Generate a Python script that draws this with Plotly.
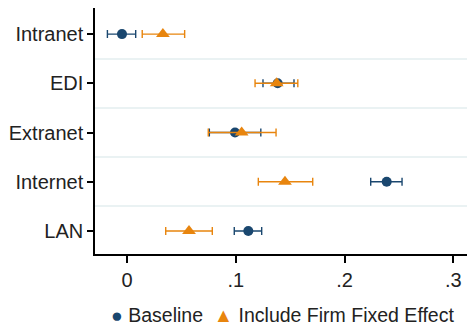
import plotly.graph_objects as go

categories = ["LAN", "Internet", "Extranet", "EDI", "Intranet"]
base_est = [0.1115, 0.2387, 0.0993, 0.1385, -0.0046]
base_lo = [0.0986, 0.2240, 0.0757, 0.1250, -0.0180]
base_hi = [0.1238, 0.2528, 0.1230, 0.1535, 0.0080]
fe_est = [0.0570, 0.1452, 0.1054, 0.1376, 0.0330]
fe_lo = [0.0356, 0.1207, 0.0747, 0.1177, 0.0140]
fe_hi = [0.0784, 0.1707, 0.1370, 0.1570, 0.0530]
x_ticks = [0, 0.1, 0.2, 0.3]
x_labels = ["0", ".1", ".2", ".3"]
series_names = ["Baseline", "Include Firm Fixed Effect"]

NAVY = "#1a476f"
ORANGE = "#e8850e"
ypos = list(range(len(categories)))

fig = go.Figure()
fig.add_trace(go.Scatter(
    x=base_est, y=ypos, mode="markers", name=series_names[0],
    marker=dict(symbol="circle", size=10, color=NAVY),
    error_x=dict(type="data", symmetric=False,
                 array=[h - e for h, e in zip(base_hi, base_est)],
                 arrayminus=[e - l for e, l in zip(base_est, base_lo)],
                 color=NAVY, thickness=1.4, width=4),
    showlegend=False,
))
fig.add_trace(go.Scatter(
    x=fe_est, y=ypos, mode="markers", name=series_names[1],
    marker=dict(symbol="triangle-up", size=12, color=ORANGE),
    error_x=dict(type="data", symmetric=False,
                 array=[h - e for h, e in zip(fe_hi, fe_est)],
                 arrayminus=[e - l for e, l in zip(fe_est, fe_lo)],
                 color=ORANGE, thickness=1.4, width=4),
    showlegend=False,
))

legend_text = (f"<span style='color:{NAVY}'>●</span> {series_names[0]}  "
               f"<span style='color:{ORANGE}'>▲</span> {series_names[1]}")
fig.add_annotation(text=legend_text, xref="paper", yref="paper", x=0.505, y=-0.248,
                   xanchor="center", yanchor="middle", showarrow=False,
                   font=dict(size=19.5, color="#222222"))

fig.update_layout(
    width=467, height=327,
    margin=dict(l=95, r=0, t=8, b=73),
    paper_bgcolor="white", plot_bgcolor="white",
    font=dict(family="Liberation Sans, Arial, sans-serif", size=20, color="#222222"),
    showlegend=False,
)
fig.update_xaxes(
    range=[-0.0294, 0.3125], tickvals=x_ticks, ticktext=x_labels, automargin=False,
    showgrid=False, zeroline=False, showline=True, linecolor="black", linewidth=1.5,
    ticks="outside", ticklen=7, tickwidth=1.5, tickcolor="black",
)
fig.update_yaxes(
    range=[-0.467, 4.53], tickvals=ypos, ticktext=categories, automargin=False,
    showgrid=False, zeroline=False, showline=True, linecolor="black", linewidth=1.5,
    ticks="outside", ticklen=6, tickwidth=1.5, tickcolor="black",
    minor=dict(tickvals=[0.5, 1.5, 2.5, 3.5], showgrid=True, gridcolor="#eaf2f3",
               gridwidth=1.5, ticklen=0),
)

fig.write_html("out.html", config={"displayModeBar": False},
               post_script="document.body.style.margin='0';document.body.style.padding='0';")
